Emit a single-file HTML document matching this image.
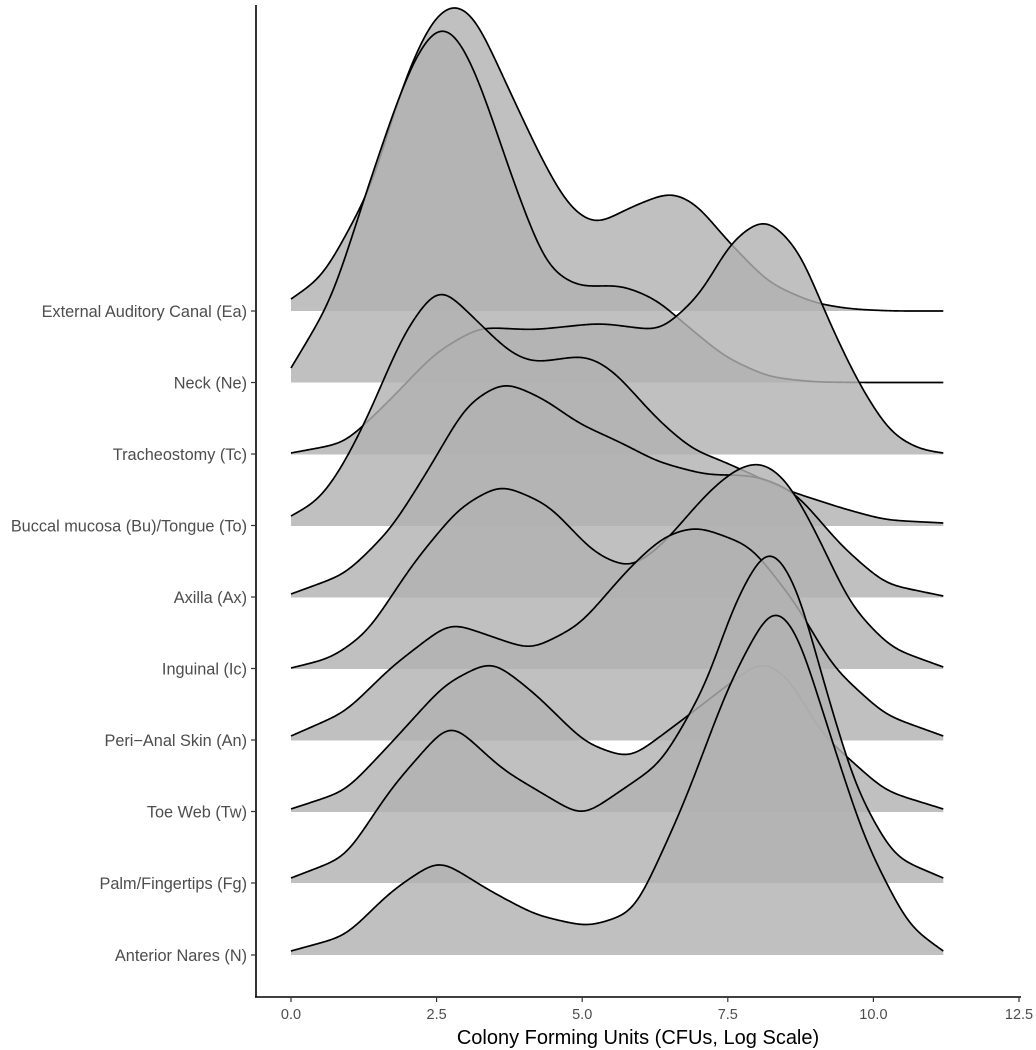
<!DOCTYPE html>
<html><head><meta charset="utf-8"><style>
html,body{margin:0;padding:0;background:#fff;}
svg{display:block;font-family:"Liberation Sans",sans-serif;}
</style></head><body>
<svg id="s" width="1036" height="1050" viewBox="0 0 1036 1050" xmlns="http://www.w3.org/2000/svg">
<g id="ridges"></g>
<line x1="256" y1="5" x2="256" y2="997.5" stroke="#000" stroke-width="1.6"/>
<line x1="255" y1="997" x2="1021" y2="997" stroke="#000" stroke-width="1.6"/>
<g stroke="#333" stroke-width="1.2">
<line x1="291" y1="997" x2="291" y2="1002"/><line x1="436.6" y1="997" x2="436.6" y2="1002"/>
<line x1="582.2" y1="997" x2="582.2" y2="1002"/><line x1="727.8" y1="997" x2="727.8" y2="1002"/>
<line x1="873.4" y1="997" x2="873.4" y2="1002"/><line x1="1019" y1="997" x2="1019" y2="1002"/>
<line x1="251" y1="311" x2="256" y2="311"/><line x1="251" y1="382.5" x2="256" y2="382.5"/>
<line x1="251" y1="454" x2="256" y2="454"/><line x1="251" y1="525.5" x2="256" y2="525.5"/>
<line x1="251" y1="597" x2="256" y2="597"/><line x1="251" y1="668.5" x2="256" y2="668.5"/>
<line x1="251" y1="740" x2="256" y2="740"/><line x1="251" y1="811.5" x2="256" y2="811.5"/>
<line x1="251" y1="883" x2="256" y2="883"/><line x1="251" y1="955" x2="256" y2="955"/>
</g>
<g fill="#4d4d4d" font-size="16.3" text-anchor="end">
<text x="247" y="317">External Auditory Canal (Ea)</text>
<text x="247" y="388.5">Neck (Ne)</text>
<text x="247" y="460">Tracheostomy (Tc)</text>
<text x="247" y="531.5">Buccal mucosa (Bu)/Tongue (To)</text>
<text x="247" y="603">Axilla (Ax)</text>
<text x="247" y="674.5">Inguinal (Ic)</text>
<text x="247" y="746">Peri−Anal Skin (An)</text>
<text x="247" y="817.5">Toe Web (Tw)</text>
<text x="247" y="889">Palm/Fingertips (Fg)</text>
<text x="247" y="961">Anterior Nares (N)</text>
</g>
<g fill="#4d4d4d" font-size="14.5" text-anchor="middle">
<text x="291" y="1019">0.0</text><text x="436.6" y="1019">2.5</text>
<text x="582.2" y="1019">5.0</text><text x="727.8" y="1019">7.5</text>
<text x="873.4" y="1019">10.0</text><text x="1019" y="1019">12.5</text>
</g>
<text x="638" y="1044" font-size="20" text-anchor="middle" fill="#000">Colony Forming Units (CFUs, Log Scale)</text>
</svg>
<script>
var X=function(v){return 291+58.24*v;};
var R=[
{b:311,p:[[0,299],[0.55,277],[1.39,187],[1.92,83],[2.4,20],[2.77,1],[3.15,14],[3.69,83],[4.31,160],[4.76,207],[5.22,226],[5.8,208],[6.53,191],[7.0,205],[7.37,233],[8.2,283],[8.98,303],[9.6,309],[10.3,311],[11.2,311]]},
{b:382.5,p:[[0,368],[0.7,300],[1.32,187],[1.93,83],[2.3,38],[2.61,22],[2.9,38],[3.23,80],[3.85,187],[4.38,267],[4.92,287],[5.68,285],[6.3,300],[6.68,320],[7.45,357],[8.2,377],[8.98,382],[9.8,382.5],[11.2,382.5]]},
{b:454.5,p:[[0,453],[0.93,443],[1.7,400],[2.47,353],[3.23,327],[4.16,330],[5.31,323],[6.35,331],[7.06,293],[7.52,243],[8.14,216],[8.74,250],[9.2,317],[9.74,383],[10.28,433],[10.8,450],[11.2,453]]},
{b:526,p:[[0,516],[0.5,500],[0.9,465],[1.32,417],[1.93,333],[2.54,284],[3.23,323],[3.76,353],[4.15,363],[5.07,355],[5.53,370],[6.3,420],[6.9,450],[7.37,460],[7.9,474],[8.5,490],[9.45,508],[10.2,520],[11.2,523]]},
{b:597.5,p:[[0,594],[0.94,574],[1.72,529],[2.4,466],[3.0,405],[3.66,381],[4.38,400],[4.92,423],[5.68,443],[6.3,462],[7.14,475],[7.75,475],[8.05,477],[8.4,485],[8.69,494],[9.45,546],[10.2,584],[11.2,596]]},
{b:669,p:[[0,668],[0.7,658],[1.32,632],[2.1,563],[2.88,508],[3.6,484],[4.43,505],[5.2,553],[5.82,569],[6.36,546],[7.13,494],[7.6,470],[8.05,460],[8.5,478],[9.0,530],[9.6,605],[10.3,648],[11.2,667]]},
{b:740.5,p:[[0,736],[0.94,712],[1.72,667],[2.73,622],[3.42,636],[4.12,650],[4.96,625],[5.82,567],[6.4,536],[6.97,526],[7.9,546],[8.69,605],[9.3,667],[10.2,715],[11.2,736]]},
{b:812,p:[[0,809],[0.94,791],[1.72,743],[2.64,684],[3.45,660],[4.2,694],[5.05,743],[5.82,759],[6.74,719],[7.52,684],[8.1,659],[8.6,680],[9.07,732],[10.2,791],[11.2,809]]},
{b:883,p:[[0,878],[0.94,857],[1.72,788],[2.73,721],[3.64,770],[5.0,817],[6.36,763],[7.14,684],[7.59,605],[8.2,541],[8.7,585],[9.07,667],[9.69,788],[10.35,857],[11.2,878]]},
{b:955,p:[[0,951],[0.94,936],[1.72,891],[2.54,859],[3.42,891],[4.2,915],[5.1,927],[5.9,912],[6.74,805],[7.52,684],[8.27,602],[8.7,630],[9.07,701],[9.84,839],[10.6,926],[11.2,951]]}
];
function interp(p,x){
 for(var i=0;i<p.length-1;i++){ if(x<=p[i+1][0]){var t=(x-p[i][0])/(p[i+1][0]-p[i][0]);return p[i][1]+t*(p[i+1][1]-p[i][1]);} }
 return p[p.length-1][1];
}
function path(p){
 var st=0.02,N=Math.round(11.2/st),ys=[],sm=[],sig=0.2,K=[],kr=Math.ceil(3*sig/st);
 for(var i=0;i<=N;i++) ys.push(interp(p,i*st));
 for(var k=-kr;k<=kr;k++) K.push(Math.exp(-0.5*Math.pow(k*st/sig,2)));
 for(var i=0;i<=N;i++){
  var s=0,w=0;
  for(var k=-kr;k<=kr;k++){var j=i+k;var v;
   if(j<0){v=2*ys[0]-ys[-j];} else if(j>N){v=2*ys[N]-ys[2*N-j];} else v=ys[j];
   s+=K[k+kr]*v;w+=K[k+kr];}
  sm.push(s/w);
 }
 var d="M"+X(0).toFixed(1)+","+sm[0].toFixed(1);
 for(var i=1;i<=N;i++) d+="L"+X(i*st).toFixed(2)+","+sm[i].toFixed(2);
 return d;
}
var g=document.getElementById("ridges"),h="";
R.forEach(function(r){
 var d=path(r.p);
 h+='<path d="'+d+'L'+X(11.2).toFixed(1)+','+r.b+'L291,'+r.b+'Z" fill="#b1b1b1" fill-opacity="0.81"/>';
 h+='<path d="'+d+'" fill="none" stroke="#000" stroke-width="1.7" stroke-linejoin="round"/>';
});
g.innerHTML=h;
</script>
</body></html>
